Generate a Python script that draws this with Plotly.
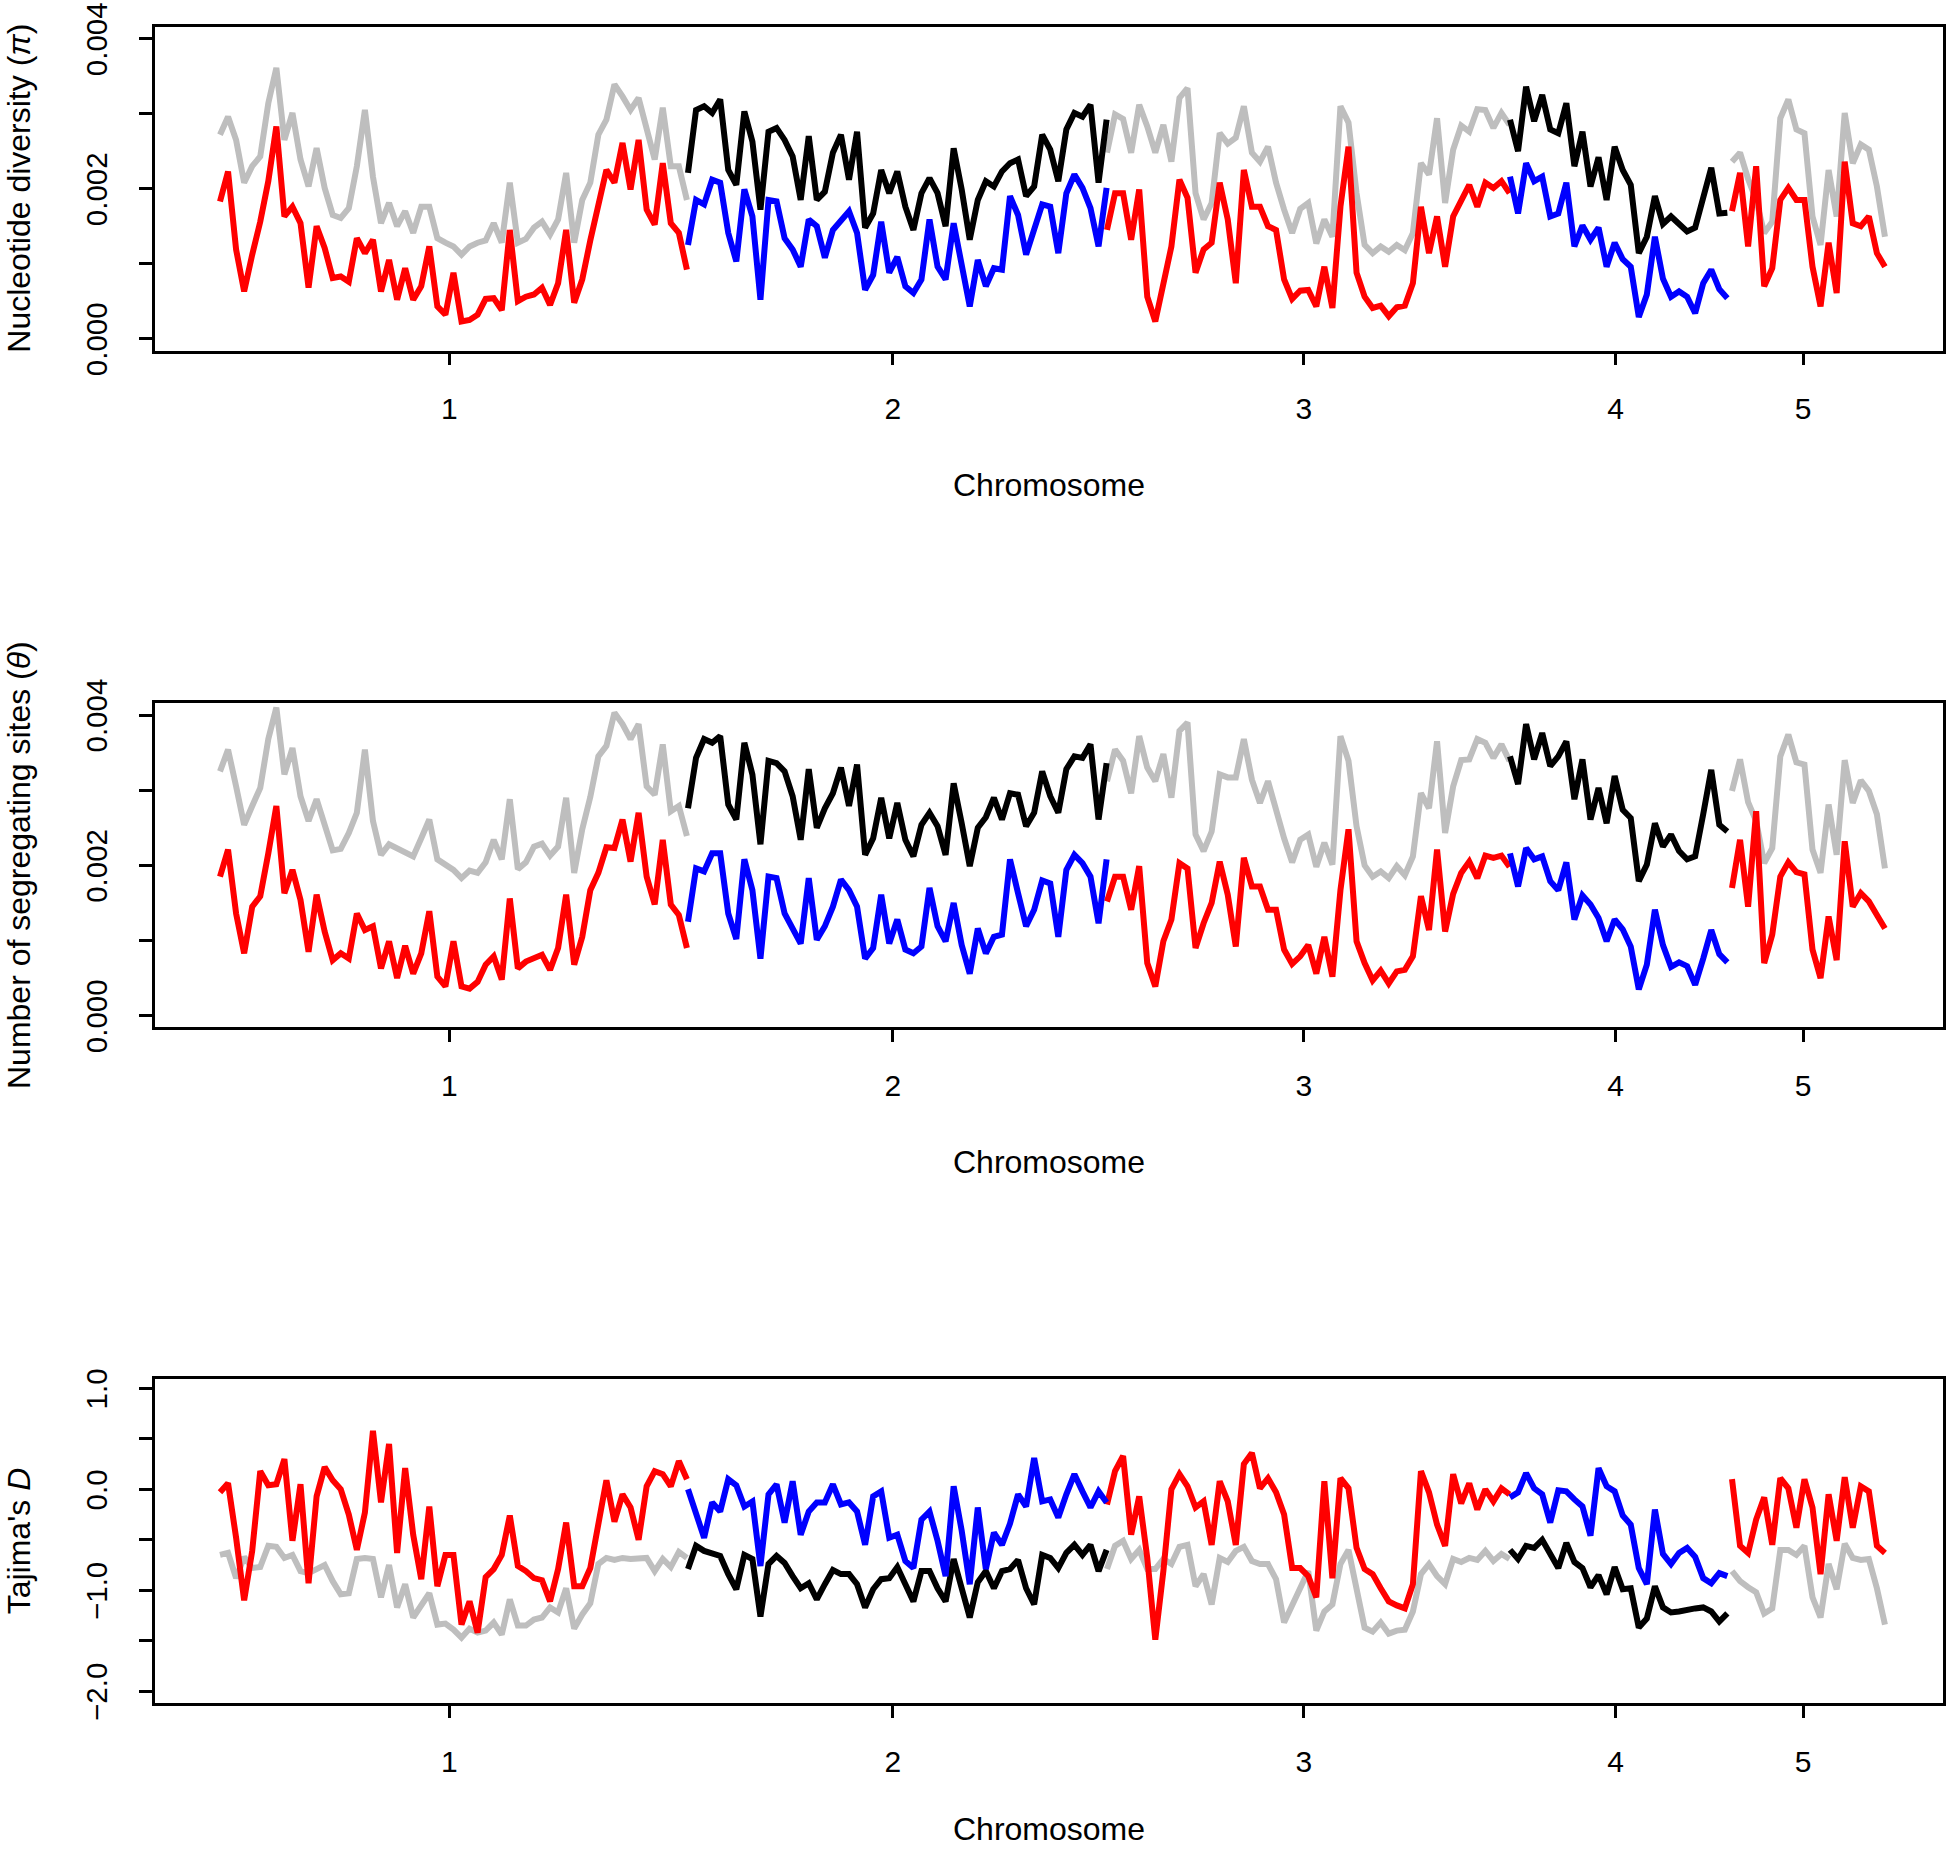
import plotly.graph_objects as go

# ---------------- data ----------------
chrom_labels = ["1", "2", "3", "4", "5"]
chrom_start = [0.0, 46.8, 88.7, 129.0, 151.2]      # genome position of first window (Mb)
chrom_tick = [22.93, 67.28, 108.38, 139.55, 158.30]  # tick positions of chromosome labels
window_step = 0.805                                   # sliding-window step (Mb)

# Nucleotide diversity pi (x 1e-3) -- population A (red / blue)
pi_A_chr1 = [1.83, 2.23, 1.19, 0.63, 1.12, 1.56, 2.10, 2.83, 1.63, 1.76,
             1.54, 0.68, 1.50, 1.21, 0.81, 0.83, 0.76, 1.34, 1.14, 1.32,
             0.63, 1.05, 0.52, 0.94, 0.52, 0.70, 1.23, 0.43, 0.32, 0.88,
             0.23, 0.25, 0.32, 0.53, 0.54, 0.38, 1.45, 0.50, 0.56, 0.59,
             0.68, 0.45, 0.74, 1.45, 0.48, 0.79, 1.31, 1.76, 2.25, 2.08,
             2.61, 1.99, 2.65, 1.72, 1.52, 2.34, 1.54, 1.41, 0.92]
pi_A_chr2 = [1.25, 1.85, 1.79, 2.12, 2.08, 1.41, 1.03, 1.99, 1.63, 0.52,
             1.85, 1.83, 1.34, 1.19, 0.96, 1.59, 1.50, 1.08, 1.45, 1.59,
             1.70, 1.41, 0.65, 0.85, 1.56, 0.88, 1.09, 0.70, 0.61, 0.79,
             1.59, 0.96, 0.79, 1.54, 0.96, 0.43, 1.05, 0.70, 0.94, 0.92,
             1.90, 1.65, 1.12, 1.45, 1.79, 1.76, 1.14, 1.94, 2.19, 2.01,
             1.74, 1.23, 2.01]
pi_A_chr3 = [1.45, 1.94, 1.94, 1.32, 1.99, 0.56, 0.23, 0.76, 1.23, 2.12,
             1.88, 0.88, 1.19, 1.28, 2.08, 1.59, 0.74, 2.25, 1.76, 1.76,
             1.50, 1.45, 0.79, 0.53, 0.64, 0.65, 0.43, 0.96, 0.41, 1.76,
             2.56, 0.88, 0.56, 0.41, 0.44, 0.30, 0.42, 0.44, 0.74, 1.76,
             1.14, 1.63, 0.96, 1.63, 1.83, 2.05, 1.76, 2.08, 2.01, 2.10,
             1.94]
pi_A_chr4 = [2.16, 1.67, 2.34, 2.10, 2.16, 1.63, 1.67, 2.08, 1.23, 1.51,
             1.32, 1.48, 0.96, 1.28, 1.06, 0.96, 0.29, 0.59, 1.36, 0.80,
             0.56, 0.63, 0.56, 0.34, 0.74, 0.92, 0.66, 0.54]
pi_A_chr5 = [1.70, 2.21, 1.23, 2.30, 0.70, 0.94, 1.85, 2.01, 1.85, 1.85,
             0.96, 0.43, 1.28, 0.61, 2.36, 1.54, 1.50, 1.63, 1.14, 0.96]

# Nucleotide diversity pi (x 1e-3) -- population B (grey / black)
pi_B_chr1 = [2.72, 2.96, 2.65, 2.08, 2.30, 2.43, 3.14, 3.61, 2.65, 3.01,
             2.39, 2.03, 2.54, 2.01, 1.65, 1.61, 1.74, 2.30, 3.05, 2.16,
             1.54, 1.81, 1.50, 1.70, 1.41, 1.76, 1.76, 1.34, 1.28, 1.23,
             1.12, 1.23, 1.28, 1.31, 1.54, 1.28, 2.08, 1.28, 1.33, 1.48,
             1.56, 1.39, 1.59, 2.21, 1.28, 1.85, 2.08, 2.72, 2.92, 3.39,
             3.23, 3.05, 3.21, 2.79, 2.39, 3.08, 2.30, 2.30, 1.85]
pi_B_chr2 = [2.21, 3.05, 3.10, 3.01, 3.19, 2.25, 2.05, 3.03, 2.63, 1.72,
             2.76, 2.81, 2.65, 2.43, 1.85, 2.70, 1.85, 1.96, 2.48, 2.72,
             2.12, 2.76, 1.48, 1.67, 2.25, 1.94, 2.23, 1.76, 1.45, 1.94,
             2.14, 1.94, 1.50, 2.54, 1.99, 1.32, 1.85, 2.10, 2.03, 2.23,
             2.34, 2.39, 1.90, 2.03, 2.72, 2.52, 2.10, 2.79, 3.01, 2.96,
             3.12, 2.08, 2.92]
pi_B_chr3 = [2.48, 2.99, 2.93, 2.48, 3.12, 2.83, 2.48, 2.85, 2.36, 3.21,
             3.34, 1.94, 1.59, 1.81, 2.74, 2.60, 2.68, 3.10, 2.48, 2.36,
             2.56, 2.08, 1.72, 1.41, 1.73, 1.81, 1.27, 1.59, 1.36, 3.10,
             2.88, 1.94, 1.25, 1.14, 1.23, 1.16, 1.25, 1.18, 1.41, 2.34,
             2.19, 2.94, 1.81, 2.52, 2.84, 2.76, 3.06, 3.05, 2.81, 3.01,
             2.85]
pi_B_chr4 = [2.92, 2.50, 3.36, 2.90, 3.25, 2.79, 2.74, 3.14, 2.30, 2.76,
             2.03, 2.42, 1.85, 2.56, 2.25, 2.05, 1.14, 1.36, 1.90, 1.53,
             1.63, 1.52, 1.43, 1.48, 1.85, 2.28, 1.67, 1.68]
pi_B_chr5 = [2.36, 2.48, 2.13, 1.85, 1.41, 1.56, 2.94, 3.19, 2.79, 2.74,
             1.63, 1.25, 2.25, 1.63, 3.01, 2.34, 2.59, 2.52, 2.03, 1.36]

# Segregating sites theta (x 1e-3) -- population A
th_A_chr1 = [1.85, 2.21, 1.36, 0.83, 1.45, 1.59, 2.16, 2.79, 1.63, 1.94,
             1.54, 0.85, 1.61, 1.12, 0.74, 0.83, 0.76, 1.36, 1.14, 1.19,
             0.63, 0.99, 0.50, 0.93, 0.56, 0.83, 1.39, 0.52, 0.39, 0.99,
             0.39, 0.36, 0.45, 0.68, 0.79, 0.48, 1.56, 0.63, 0.72, 0.76,
             0.81, 0.61, 0.90, 1.61, 0.68, 1.05, 1.67, 1.90, 2.24, 2.23,
             2.61, 2.05, 2.70, 1.85, 1.48, 2.34, 1.48, 1.34, 0.90]
th_A_chr2 = [1.25, 1.96, 1.92, 2.16, 2.16, 1.36, 1.02, 2.08, 1.67, 0.76,
             1.85, 1.83, 1.36, 1.16, 0.96, 1.83, 1.01, 1.19, 1.45, 1.81,
             1.67, 1.45, 0.76, 0.90, 1.61, 0.96, 1.28, 0.88, 0.83, 0.92,
             1.70, 1.19, 0.99, 1.50, 0.94, 0.56, 1.16, 0.83, 1.05, 1.08,
             2.08, 1.63, 1.19, 1.41, 1.80, 1.76, 1.05, 1.94, 2.14, 2.03,
             1.85, 1.23, 2.08]
th_A_chr3 = [1.52, 1.85, 1.85, 1.41, 1.99, 0.70, 0.39, 0.99, 1.28, 2.03,
             1.96, 0.90, 1.23, 1.50, 2.05, 1.61, 0.92, 2.10, 1.72, 1.72,
             1.41, 1.41, 0.88, 0.69, 0.79, 0.94, 0.56, 1.05, 0.52, 1.67,
             2.48, 0.99, 0.70, 0.47, 0.60, 0.43, 0.59, 0.61, 0.79, 1.59,
             1.14, 2.21, 1.12, 1.62, 1.90, 2.05, 1.83, 2.13, 2.10, 2.13,
             1.98]
th_A_chr4 = [2.16, 1.72, 2.23, 2.08, 2.12, 1.79, 1.67, 2.04, 1.28, 1.60,
             1.48, 1.30, 0.99, 1.28, 1.15, 0.92, 0.35, 0.68, 1.41, 0.94,
             0.65, 0.71, 0.66, 0.41, 0.76, 1.14, 0.82, 0.71]
th_A_chr5 = [1.70, 2.34, 1.45, 2.72, 0.70, 1.08, 1.85, 2.04, 1.91, 1.88,
             0.88, 0.50, 1.32, 0.74, 2.32, 1.45, 1.63, 1.52, 1.34, 1.16]

# Segregating sites theta (x 1e-3) -- population B
th_B_chr1 = [3.25, 3.54, 3.05, 2.54, 2.79, 3.03, 3.68, 4.10, 3.21, 3.56,
             2.92, 2.59, 2.88, 2.52, 2.20, 2.22, 2.43, 2.70, 3.54, 2.59,
             2.14, 2.28, 2.23, 2.16, 2.12, 2.36, 2.61, 2.08, 2.01, 1.94,
             1.83, 1.93, 1.90, 2.04, 2.34, 2.08, 2.88, 1.95, 2.04, 2.25,
             2.29, 2.13, 2.25, 2.90, 1.90, 2.48, 2.91, 3.45, 3.59, 4.03,
             3.88, 3.68, 3.88, 3.05, 2.94, 3.61, 2.72, 2.79, 2.39]
th_B_chr2 = [2.76, 3.43, 3.68, 3.63, 3.72, 2.81, 2.61, 3.63, 3.21, 2.28,
             3.39, 3.36, 3.25, 2.92, 2.34, 3.28, 2.50, 2.76, 2.96, 3.30,
             2.79, 3.34, 2.14, 2.36, 2.90, 2.36, 2.83, 2.34, 2.12, 2.54,
             2.70, 2.52, 2.14, 3.09, 2.56, 1.99, 2.50, 2.64, 2.90, 2.61,
             2.96, 2.94, 2.52, 2.70, 3.25, 2.92, 2.70, 3.28, 3.45, 3.43,
             3.61, 2.61, 3.36]
th_B_chr3 = [3.12, 3.54, 3.39, 2.96, 3.72, 3.30, 3.12, 3.48, 2.90, 3.79,
             3.90, 2.41, 2.19, 2.45, 3.21, 3.17, 3.17, 3.68, 3.14, 2.83,
             3.12, 2.70, 2.36, 2.04, 2.34, 2.41, 1.98, 2.30, 2.01, 3.72,
             3.39, 2.52, 2.00, 1.85, 1.92, 1.83, 1.99, 1.87, 2.12, 2.96,
             2.76, 3.65, 2.43, 3.05, 3.40, 3.41, 3.68, 3.63, 3.43, 3.61,
             3.39]
th_B_chr4 = [3.45, 3.08, 3.88, 3.41, 3.76, 3.32, 3.45, 3.65, 2.88, 3.41,
             2.61, 3.03, 2.56, 3.19, 2.74, 2.63, 1.79, 2.01, 2.56, 2.25,
             2.41, 2.19, 2.08, 2.12, 2.68, 3.27, 2.54, 2.45]
th_B_chr5 = [2.99, 3.41, 2.84, 2.59, 2.03, 2.23, 3.45, 3.74, 3.37, 3.34,
             2.21, 1.90, 2.81, 2.14, 3.40, 2.83, 3.13, 2.99, 2.68, 1.96]

# Tajima's D -- population A
td_A_chr1 = [-0.03, 0.06, -0.48, -1.10, -0.61, 0.18, 0.04, 0.05, 0.30, -0.51,
             0.05, -0.93, -0.07, 0.22, 0.09, 0.00, -0.25, -0.60, -0.23, 0.58,
             -0.13, 0.45, -0.63, 0.21, -0.45, -0.89, -0.17, -0.96, -0.65, -0.65,
             -1.34, -1.11, -1.42, -0.87, -0.79, -0.65, -0.26, -0.76, -0.81, -0.88,
             -0.90, -1.11, -0.79, -0.33, -0.96, -0.96, -0.78, -0.32, 0.09, -0.32,
             -0.05, -0.18, -0.50, 0.03, 0.18, 0.15, 0.03, 0.28, 0.10]
td_A_chr2 = [0.00, -0.22, -0.48, -0.13, -0.22, 0.10, 0.04, -0.17, -0.12, -0.76,
             -0.05, 0.05, -0.33, 0.08, -0.45, -0.22, -0.13, -0.13, 0.05, -0.15,
             -0.13, -0.22, -0.55, -0.07, -0.02, -0.48, -0.45, -0.71, -0.78, -0.30,
             -0.22, -0.51, -0.86, 0.03, -0.41, -0.94, -0.18, -0.79, -0.43, -0.55,
             -0.34, -0.05, -0.17, 0.31, -0.12, -0.10, -0.28, -0.05, 0.15, -0.02,
             -0.18, -0.02, -0.13]
td_A_chr3 = [-0.15, 0.18, 0.33, -0.45, -0.07, -0.68, -1.49, -0.81, 0.00, 0.15,
             0.03, -0.18, -0.12, -0.55, 0.08, -0.12, -0.55, 0.25, 0.36, 0.01,
             0.11, -0.03, -0.25, -0.78, -0.78, -0.86, -1.07, 0.08, -0.88, 0.11,
             0.01, -0.58, -0.79, -0.84, -0.98, -1.11, -1.15, -1.18, -0.94, 0.18,
             -0.03, -0.35, -0.56, 0.15, -0.14, 0.06, -0.20, 0.00, -0.12, 0.01,
             -0.05]
td_A_chr4 = [-0.08, -0.03, 0.16, 0.01, -0.05, -0.33, -0.01, -0.02, -0.10, -0.17,
             -0.46, 0.21, 0.03, -0.02, -0.26, -0.35, -0.78, -0.94, -0.20, -0.64,
             -0.74, -0.63, -0.58, -0.67, -0.88, -0.93, -0.83, -0.86]
td_A_chr5 = [0.10, -0.56, -0.63, -0.30, -0.08, -0.55, 0.11, 0.01, -0.38, 0.10,
             -0.18, -0.84, -0.05, -0.51, 0.12, -0.38, 0.03, -0.02, -0.56, -0.63]

# Tajima's D -- population B
td_B_chr1 = [-0.65, -0.63, -0.88, -0.67, -0.78, -0.77, -0.56, -0.57, -0.68, -0.65,
             -0.81, -0.83, -0.79, -0.75, -0.91, -1.04, -1.03, -0.69, -0.68, -0.69,
             -1.07, -0.75, -1.17, -0.94, -1.27, -1.16, -1.03, -1.34, -1.33, -1.39,
             -1.47, -1.38, -1.42, -1.40, -1.32, -1.44, -1.09, -1.35, -1.35, -1.29,
             -1.27, -1.17, -1.22, -0.98, -1.38, -1.24, -1.13, -0.74, -0.68, -0.70,
             -0.68, -0.69, -0.68, -0.68, -0.81, -0.69, -0.77, -0.62, -0.68]
td_B_chr2 = [-0.79, -0.56, -0.61, -0.64, -0.66, -0.84, -0.99, -0.65, -0.69, -1.26,
             -0.74, -0.66, -0.73, -0.86, -0.98, -0.93, -1.09, -0.94, -0.80, -0.84,
             -0.84, -0.94, -1.17, -0.99, -0.89, -0.88, -0.77, -0.94, -1.11, -0.81,
             -0.81, -0.98, -1.11, -0.69, -0.98, -1.27, -0.92, -0.81, -0.98, -0.81,
             -0.79, -0.70, -0.98, -1.14, -0.65, -0.68, -0.78, -0.63, -0.55, -0.65,
             -0.55, -0.81, -0.60]
td_B_chr3 = [-0.79, -0.56, -0.51, -0.69, -0.60, -0.79, -0.79, -0.69, -0.74, -0.57,
             -0.55, -0.96, -0.84, -1.14, -0.68, -0.72, -0.61, -0.57, -0.71, -0.74,
             -0.74, -0.89, -1.32, -1.16, -0.97, -0.81, -1.40, -1.21, -1.14, -0.74,
             -0.60, -0.98, -1.37, -1.41, -1.32, -1.43, -1.40, -1.39, -1.21, -0.84,
             -0.74, -0.86, -0.94, -0.69, -0.72, -0.68, -0.70, -0.61, -0.71, -0.64,
             -0.69]
td_B_chr4 = [-0.60, -0.69, -0.56, -0.58, -0.50, -0.64, -0.78, -0.53, -0.72, -0.78,
             -0.97, -0.85, -1.04, -0.77, -0.99, -0.98, -1.37, -1.28, -0.96, -1.17,
             -1.22, -1.21, -1.19, -1.18, -1.17, -1.21, -1.31, -1.23]
td_B_chr5 = [-0.81, -0.91, -0.97, -1.02, -1.23, -1.18, -0.60, -0.60, -0.65, -0.56,
             -1.07, -1.27, -0.74, -0.99, -0.54, -0.68, -0.70, -0.69, -0.98, -1.34]

y_titles = ["Nucleotide diversity (<i>π</i>)",
            "Number of segregating sites (<i>θ</i>)",
            "Tajima's <i>D</i>"]
x_title = "Chromosome"
y_tickvals_div = [0.0, 0.001, 0.002, 0.003, 0.004]
y_ticktext_div = ["0.000", "", "0.002", "", "0.004"]
y_tickvals_td = [-2.0, -1.5, -1.0, -0.5, 0.0, 0.5, 1.0]
y_ticktext_td = ["\u22122.0", "", "\u22121.0", "", "0.0", "", "1.0"]

# ---------------- figure ----------------
W, H = 1947, 1850
FONT = "Liberation Sans, Arial, Helvetica, sans-serif"
COL_A_ODD, COL_A_EVEN = "#FF0000", "#0000FF"
COL_B_ODD, COL_B_EVEN = "#BEBEBE", "#000000"
LW = 6

panels = [
    dict(A=[pi_A_chr1, pi_A_chr2, pi_A_chr3, pi_A_chr4, pi_A_chr5],
         B=[pi_B_chr1, pi_B_chr2, pi_B_chr3, pi_B_chr4, pi_B_chr5],
         scale=1e-3, yrange=[-0.00016, 0.00416],
         tv=y_tickvals_div, tt=y_ticktext_div, top=26.7, bot=350.7, xt=485.5),
    dict(A=[th_A_chr1, th_A_chr2, th_A_chr3, th_A_chr4, th_A_chr5],
         B=[th_B_chr1, th_B_chr2, th_B_chr3, th_B_chr4, th_B_chr5],
         scale=1e-3, yrange=[-0.00015, 0.00416],
         tv=y_tickvals_div, tt=y_ticktext_div, top=703.0, bot=1027.0, xt=1162.0),
    dict(A=[td_A_chr1, td_A_chr2, td_A_chr3, td_A_chr4, td_A_chr5],
         B=[td_B_chr1, td_B_chr2, td_B_chr3, td_B_chr4, td_B_chr5],
         scale=1.0, yrange=[-2.12, 1.09],
         tv=y_tickvals_td, tt=y_ticktext_td, top=1379.3, bot=1703.3, xt=1829.0),
]


def build(series, chroms, scale):
    xs, ys = [], []
    for c in chroms:
        for i, v in enumerate(series[c]):
            xs.append(chrom_start[c] + i * window_step)
            ys.append(v * scale)
        xs.append(None)
        ys.append(None)
    return xs, ys


fig = go.Figure()
x_left, x_right = 155.2, 1943.2
layout = {}
annotations = []
for k, p in enumerate(panels, start=1):
    xa = "x" if k == 1 else f"x{k}"
    ya = "y" if k == 1 else f"y{k}"
    for series, chroms, col in [(p["B"], [0, 2, 4], COL_B_ODD),
                                (p["B"], [1, 3], COL_B_EVEN),
                                (p["A"], [0, 2, 4], COL_A_ODD),
                                (p["A"], [1, 3], COL_A_EVEN)]:
        xs, ys = build(series, chroms, p["scale"])
        fig.add_trace(go.Scatter(x=xs, y=ys, mode="lines", xaxis=xa, yaxis=ya,
                                 line=dict(color=col, width=LW),
                                 showlegend=False, hoverinfo="skip"))
    dom_y = [1 - p["bot"] / H, 1 - p["top"] / H]
    layout[f"xaxis{'' if k == 1 else k}"] = dict(
        domain=[x_left / W, x_right / W], anchor=ya, range=[-6.48, 172.32],
        automargin=False, ticklabeloverflow="allow",
        tickmode="array", tickvals=chrom_tick, ticktext=chrom_labels,
        ticks="outside", ticklen=12, tickwidth=2.5, tickcolor="black",
        showline=True, mirror=True, linecolor="black", linewidth=2.5,
        showgrid=False, zeroline=False, ticklabelstandoff=18,
        tickfont=dict(family=FONT, size=30, color="black"))
    layout[f"yaxis{'' if k == 1 else k}"] = dict(
        domain=dom_y, anchor=xa, range=p["yrange"], automargin=False,
        ticklabeloverflow="allow", ticklabelshift=5,
        tickmode="array", tickvals=p["tv"], ticktext=p["tt"], tickangle=-90,
        ticks="outside", ticklen=13, tickwidth=2.5, tickcolor="black",
        showline=True, mirror=True, linecolor="black", linewidth=2.5,
        showgrid=False, zeroline=False, ticklabelstandoff=21,
        tickfont=dict(family=FONT, size=29.5, color="black"))
    annotations.append(dict(text=y_titles[k - 1], x=19 / W, y=(dom_y[0] + dom_y[1]) / 2,
                            xref="paper", yref="paper", xanchor="center", yanchor="middle",
                            textangle=-90, showarrow=False,
                            font=dict(family=FONT, size=32, color="black")))
    annotations.append(dict(text=x_title, x=(x_left + x_right) / 2 / W, y=1 - p["xt"] / H,
                            xref="paper", yref="paper", xanchor="center", yanchor="middle",
                            showarrow=False, font=dict(family=FONT, size=32, color="black")))

fig.update_layout(width=W, height=H, margin=dict(l=0, r=0, t=0, b=0, autoexpand=False),
                  paper_bgcolor="white", plot_bgcolor="white",
                  annotations=annotations, showlegend=False,
                  font=dict(family=FONT, color="black"), **layout)

fig.write_html("out.html",
               config={"displayModeBar": False},
               post_script="document.body.style.margin='0';"
                           "document.body.style.overflow='hidden';")
